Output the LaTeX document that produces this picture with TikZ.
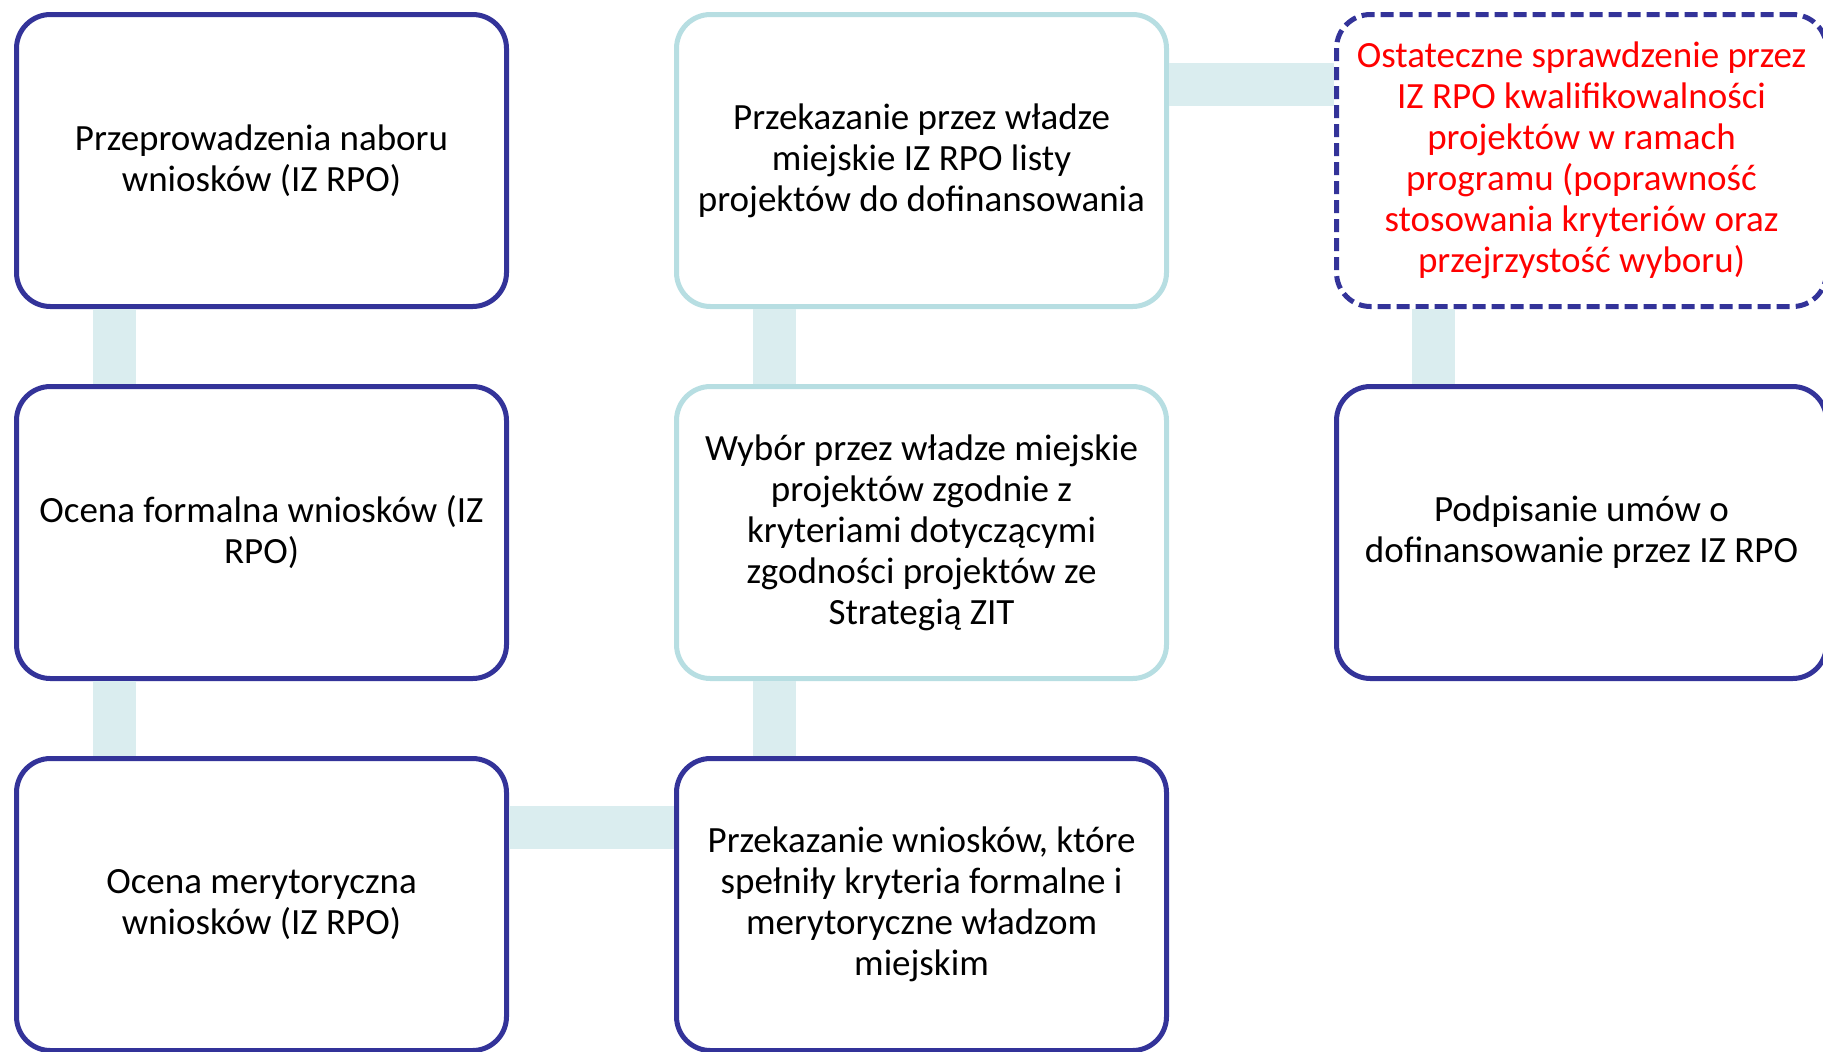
\documentclass[tikz,border=0pt]{standalone}
\usepackage{fontspec}
\setmainfont{Carlito}
\usetikzlibrary{positioning}
\definecolor{frame}{RGB}{51,51,153}
\definecolor{lightframe}{RGB}{183,222,226}
\definecolor{barcol}{RGB}{218,237,239}

\begin{document}
\begin{tikzpicture}[x=1pt,y=1pt,
  main node/.style={rectangle,rounded corners=17pt,draw=frame,line width=2.5pt,fill=white,
    minimum width=245pt,minimum height=146pt,align=center,
    font=\fontsize{18.5pt}{20.5pt}\selectfont},
  light node/.style={main node,draw=lightframe},
  check node/.style={main node,dashed,dash pattern=on 6.5pt off 3pt,text=red},
  bar/.style={draw=barcol,line width=21.5pt}]

  \useasboundingbox (0,0) rectangle (911.5,-525.5);

  \node[main node] (1) at (130.75,-80.25) {Przeprowadzenia naboru\\wniosków (IZ RPO)};
  \node[main node] (2) [below=37.5pt of 1] {Ocena formalna wniosków (IZ\\RPO)};
  \node[main node] (3) [below=37.5pt of 2] {Ocena merytoryczna\\wniosków (IZ RPO)};
  \node[main node] (4) [right=82.5pt of 3] {Przekazanie wniosków, które\\spełniły kryteria formalne i\\merytoryczne władzom\\miejskim};
  \node[light node] (5) [above=37.5pt of 4] {Wybór przez władze miejskie\\projektów zgodnie z\\kryteriami dotyczącymi\\zgodności projektów ze\\Strategią ZIT};
  \node[light node] (6) [above=37.5pt of 5] {Przekazanie przez władze\\miejskie IZ RPO listy\\projektów do dofinansowania};
  \node[check node] (7) [right=82.5pt of 6] {Ostateczne sprawdzenie przez\\IZ RPO kwalifikowalności\\projektów w ramach\\programu (poprawność\\stosowania kryteriów oraz\\przejrzystość wyboru)};
  \node[main node] (8) [below=37.5pt of 7] {Podpisanie umów o\\dofinansowanie przez IZ RPO};

  \draw[bar] ([xshift=50pt]1.south west) -- ([xshift=50pt]2.north west);
  \draw[bar] ([xshift=50pt]2.south west) -- ([xshift=50pt]3.north west);
  \draw[bar] ([yshift=-35.5pt]3.north east) -- ([yshift=-35.5pt]4.north west);
  \draw[bar] ([xshift=50pt]4.north west) -- ([xshift=50pt]5.south west);
  \draw[bar] ([xshift=50pt]5.north west) -- ([xshift=50pt]6.south west);
  \draw[bar] ([yshift=-36pt]6.north east) -- ([yshift=-36pt]7.north west);
  \draw[bar] ([xshift=49.5pt]7.south west) -- ([xshift=49.5pt]8.north west);
\end{tikzpicture}
\end{document}
